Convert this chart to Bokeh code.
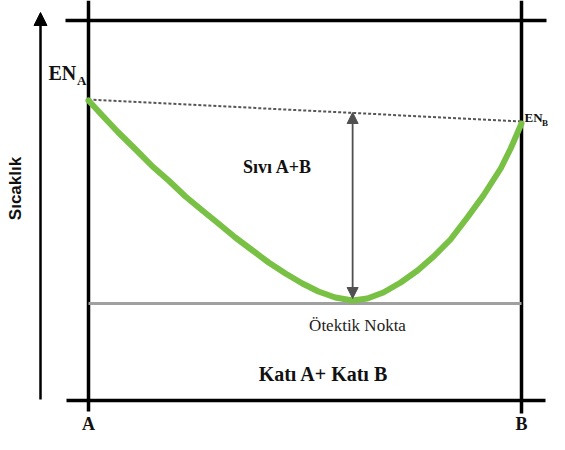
from bokeh.plotting import figure
from bokeh.models import Range1d, Arrow, NormalHead
from bokeh.core.properties import value
from bokeh.embed import file_html
from bokeh.resources import INLINE
import math

# ---- data (composition in % B, temperature in arbitrary units) ----
liq_comp = [0, 3.2, 6.9, 10.9, 14.8, 18.5, 22.4, 26.3, 30.0, 33.9, 37.9, 41.6, 45.5,
            49.4, 53.1, 57.0, 61.0, 64.4, 68.1, 72.1, 76.0, 79.7, 83.6, 87.5, 91.2,
            95.2, 97.5, 100]
liq_temp = [300, 285, 268, 251, 234, 220, 204, 190, 177, 163, 150, 138, 127,
            117, 109, 103, 100, 102, 108, 118, 130, 144, 161, 183, 205,
            232, 252, 277]
melt_comp = [0, 100]          # pure A, pure B
melt_temp = [301, 279]        # EN_A, EN_B
eutectic_temp = 97
eutectic_comp = 61
arrow_temps = [288, 102]
labels_comp = ["A", "B"]

SERIF = value("Liberation Serif")
SANS = value("Liberation Sans")

W, H = 549, 434
# pixel <-> data mapping (picture pixels)
sx = 4.33
def cx(px):
    return (px - 88) / sx
def ty(py):
    return 400 - py

p = figure(width=W, height=H, output_backend="svg", toolbar_location=None,
           x_range=Range1d(cx(0), cx(W)), y_range=Range1d(ty(H), ty(0)),
           x_axis_location=None, y_axis_location=None, min_border=0,
           outline_line_color=None, background_fill_color="white",
           border_fill_color="white")
p.xgrid.visible = False
p.ygrid.visible = False

# frame lines
p.line([0, 0], [ty(0), ty(411)], line_color="black", line_width=3.5)
p.line([100, 100], [ty(0), ty(413)], line_color="black", line_width=3.5)
p.line([cx(65), cx(546)], [ty(20), ty(20)], line_color="black", line_width=3.5)
p.line([cx(66), cx(545)], [0, 0], line_color="black", line_width=3.5)

# temperature axis arrow
p.add_layout(Arrow(end=NormalHead(size=13, fill_color="black", line_color="black"),
                   x_start=cx(40), y_start=ty(399), x_end=cx(40), y_end=ty(12),
                   line_color="black", line_width=2.5))

# eutectic line
p.line([0, 100], [eutectic_temp, eutectic_temp], line_color="#a0a0a0", line_width=3)

# melting point tie line (dotted)
p.line(melt_comp, melt_temp, line_color="#555555", line_width=2, line_dash="3 2")

# liquidus
p.line(liq_comp, liq_temp, line_color="#78c145", line_width=6, line_cap="round", line_join="round")

# double arrow
p.add_layout(Arrow(start=NormalHead(size=11, fill_color="#505050", line_color="#505050"),
                   end=NormalHead(size=11, fill_color="#505050", line_color="#505050"),
                   x_start=eutectic_comp, y_start=arrow_temps[0],
                   x_end=eutectic_comp, y_end=arrow_temps[1],
                   line_color="#505050", line_width=1.8))

def txt(x, y, s, size, bold=True, align="center", angle=0.0, color="#111111", font=SERIF):
    p.text([x], [y], text=[s], text_font=font, text_font_size=f"{size}px",
           text_font_style="bold" if bold else "normal", text_align=align,
           text_baseline="middle", angle=angle, text_color=color)

txt(cx(277), ty(166), "Sıvı A+B", 18)
txt(cx(323), ty(373), "Katı A+ Katı B", 20)
txt(cx(357), ty(325), "Ötektik Nokta", 17, bold=False, color="#222222")
txt(0, ty(423), labels_comp[0], 18)
txt(100, ty(423), labels_comp[1], 18)
txt(cx(15), ty(188), "Sıcaklık", 17, angle=math.pi / 2, font=SANS)
# EN_A
txt(cx(48), ty(72), "EN", 20, align="left")
txt(cx(76.5), ty(80), "A", 13, align="left")
# EN_B
txt(cx(524), ty(117), "EN", 13, align="left")
txt(cx(541.5), ty(122), "B", 9, align="left")

open("out.html", "w").write(file_html(p, INLINE))
